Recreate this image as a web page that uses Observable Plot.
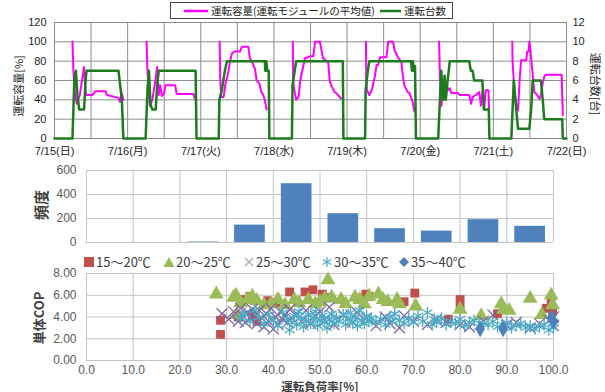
<!DOCTYPE html>
<html><head><meta charset="utf-8">
<script src="https://cdn.jsdelivr.net/npm/d3@7"></script>
<script src="https://cdn.jsdelivr.net/npm/@observablehq/plot@0.6"></script>
<style>
body{margin:0;background:#fff;}
#wrap{position:relative;width:605px;height:392px;overflow:hidden;font-family:"Liberation Sans","Noto Sans CJK JP",sans-serif;}
.panel{position:absolute;left:0;}
.lab{position:absolute;white-space:nowrap;font-family:"Noto Sans CJK JP",sans-serif;transform:translate(-50%,-50%);}
.leg{position:absolute;white-space:nowrap;font-family:"Noto Sans CJK JP",sans-serif;}
</style></head><body><div id="wrap"></div>
<script>
// ---------- top panel data ----------
const dayLabels = ["7/15(日)","7/16(月)","7/17(火)","7/18(水)","7/19(木)","7/20(金)","7/21(土)","7/22(日)"];
const dayTicks = [0,24,48,72,96,120,144,168];
const capTicks = [0,20,40,60,80,100,120];
// running units [hour since 7/15 0:00, units]
const unitsSeries = [
 [0,0],[5.9,0],[6.5,6],[7,7],[7.5,4.6],[8.1,3],[9.7,3],[10.2,6],[10.5,7],[21,7],[22.1,4],[22.6,0],
 [29.9,0],[30.5,5],[31,7],[31.5,3.5],[32.1,3],[33.2,3],[33.7,5.5],[34.2,7],[46.3,7],[46.6,0],
 [53.9,0],[54.1,4],[54.9,5],[55.4,6],[55.9,7],[56.6,8],[69,8],[69.2,7],[69.5,8],[69.8,7],[70.3,7],[70.5,0],
 [77.9,0],[78.1,5.5],[79.3,8],[94.6,8],[94.8,0],
 [101.9,0],[102.1,5],[102.8,7],[103.3,8],[117,8],[117.3,7],[117.6,8],[117.9,7],[118.3,7.5],[118.6,0],
 [125.9,0],[126.9,7],[127.5,4],[128,6.5],[128.4,4],[129,6],[129.7,8],[136.1,8],[136.6,7],[137.2,7],[137.7,6],[140.4,6],[140.9,3],[142.5,3],[142.7,0],
 [149.9,0],[150.7,6],[151.5,3],[152.1,1],[155.8,1],[156.4,3],[156.9,6],[159.6,6],[160.2,4],[160.7,2],[166.6,2],[166.8,0],[168,0]
];
// running capacity [hour, %] per day
const capDay1 = [[5.9,100],[6.2,70],[6.7,47],[7.3,36],[8.3,45],[9.7,74],[10.2,48],[10.5,45],[12.4,45],[13.5,49],[16.7,49],[17.2,45],[21,42],[21.5,38],[22.1,47],[22.6,40]];
const capDay2 = [[30.2,100],[30.5,70],[30.9,48],[31.3,34],[32.1,40],[33.1,60],[33.7,74],[34.2,45],[34.7,55],[35.2,44],[35.9,46],[36.4,55],[39.6,55],[40.1,46],[45.6,46],[46.1,41]];
const capDay3 = [[54.2,100],[54.4,60],[54.7,43],[55.5,43],[56.1,57],[56.8,65],[57.7,81],[58.2,88],[59,90],[60.9,90],[61.5,95],[63.6,95],[64.1,83],[64.7,80],[65.8,72],[66.3,60],[67.2,57],[67.9,48],[68.5,45],[69,40],[69.6,30]];
const capDay4 = [[78.2,100],[78.3,60],[78.5,53],[79.3,40],[80.1,43],[80.6,59],[81.1,67],[82.2,83],[83.8,85],[84.9,85],[85.5,100],[87.1,100],[88.1,83],[89.8,79],[90.3,60],[90.8,55],[91.9,48],[92.5,47],[93,45],[94.1,41]];
const capDay5 = [[102.2,100],[102.3,60],[102.5,50],[103.3,45],[104.1,50],[104.6,57],[105.1,64],[105.7,76],[106.2,76],[106.8,84],[108.9,84],[109.5,100],[111.1,100],[111.6,91],[112.7,84],[113.8,79],[114.3,65],[114.8,55],[115.9,48],[116.5,47],[117.5,38],[118.1,28]];
const capDay6 = [[126.2,100],[126.5,60],[127,34],[127.5,60],[128.1,50],[128.6,55],[129.1,50],[129.7,52],[130.2,47],[132.4,47],[132.9,45],[136.1,45],[136.7,36],[137.2,43],[138.3,45],[139.4,48],[139.9,34],[140.5,50],[141,31],[141.5,50],[142.4,50],[142.6,28]];
const capDay7 = [[150.2,100],[150.3,80],[150.7,59],[151.3,38],[152.1,29],[152.6,59],[153.1,81],[154.8,81],[155.1,90],[155.6,90],[155.8,100],[156.2,90],[156.6,76],[157.1,60],[157.4,48],[158.4,45],[159.1,41],[159.6,45],[160.2,57],[160.7,64],[161.2,66],[166.4,66],[166.8,24]];

// ---------- histogram data ----------
const loadBinStart = [0,10,20,30,40,50,60,70,80,90];
const frequency = [0,0,4,145,490,240,115,95,190,135];
const freqTicks = [0,200,400,600];

// ---------- scatter data [load %, COP] ----------
const seriesNames = ["15〜20℃","20〜25℃","25〜30℃","30〜35℃","35〜40℃"];
const cop15_20 = [[28.7,3.7],[28.7,2.4],[32.5,4.0],[34,5.6],[35,5.9],[35.5,4.2],[36.5,3.6],[38.8,5.5],[40.5,5.3],[43.5,6.3],[46.8,6.3],[48.5,6.5],[50.5,6.1],[52,5.8],[59.8,6.1],[60.5,5.9],[68,5.4],[70.3,6.2],[77.5,3.8],[80,5.6],[80,4.8],[88,4.3],[98.5,4.8],[99.5,5.6],[99.8,4.5]];
const cop20_25 = [[27.8,6.1],[31.5,5.8],[32,6.0],[32.2,4.2],[33,5.3],[34.5,5.6],[35.5,5.9],[36.5,5.5],[38,5.1],[39.5,5.2],[41,5.6],[42.5,5.1],[44.5,5.6],[45.5,5.3],[47.5,5.6],[49,5.2],[50,5.4],[51,5.7],[51.7,7.4],[52.5,5.8],[54.5,5.6],[55.5,5.2],[57.5,5.8],[58.5,5.6],[59.5,5.2],[60.5,5.9],[62.5,6.1],[63.5,5.6],[64.5,5.4],[66.5,5.6],[67,5.2],[70.5,5.0],[80,4.7],[84.5,4.1],[88.8,5.2],[89.3,4.7],[90.5,4.6],[95,5.7],[97.5,4.2],[99.5,6.0],[99.8,5.1]];
const cop25_30 = [[29,4.3],[30.5,3.8],[31.5,4.5],[32.5,3.6],[33,4.8],[33.5,4.1],[34,3.5],[34.5,4.4],[35,3.9],[35.5,4.7],[36,4.2],[36.5,3.4],[37,4.6],[37.5,3.9],[38,3.1],[38.5,4.3],[39,3.6],[39.5,4.8],[40,2.9],[40.5,4.0],[41,3.3],[41.5,4.5],[42,3.8],[42.5,4.2],[43,3.5],[43.5,4.7],[44,3.9],[45,4.3],[46,3.6],[47,4.6],[48,3.4],[49,4.1],[50,4.5],[51,3.7],[52,4.9],[53,3.3],[55,4.2],[57,3.5],[58,4.4],[60,3.9],[62,3.2],[64,4.0],[65,3.4],[67,3.0],[68,4.1],[70,3.6],[73,3.3],[75,3.8],[77,3.5],[80,3.3],[82,3.1],[85,3.6],[87,4.2],[90,3.2],[92,3.5],[95,3.0],[97,3.4],[99,3.7],[100,3.2],[100,4.0]];
const cop30_35 = [[33,3.9],[34,4.3],[35,3.6],[36,4.6],[37,4.0],[38,3.4],[39,4.2],[40,3.7],[41,3.2],[42,4.4],[43,3.8],[43.5,2.8],[44,3.5],[44.5,4.1],[45,3.3],[45.5,4.5],[46,3.9],[46.5,3.1],[47,3.6],[47.5,4.2],[48,3.4],[48.5,3.9],[49,4.5],[49.5,3.2],[50,3.7],[50.5,4.1],[51,3.5],[51.5,3.0],[52,3.8],[52.5,4.3],[53,3.4],[53.5,3.9],[54,3.6],[55,4.2],[55.5,3.3],[56,3.8],[56.5,4.4],[57,3.5],[57.5,4.0],[58,3.2],[58.5,4.6],[59,3.7],[59.5,3.4],[60,4.1],[60.5,3.6],[61,3.9],[62,3.5],[63,3.8],[64,3.3],[65,4.0],[65.5,3.6],[66,4.3],[67,3.7],[68,3.4],[69,3.9],[70,3.5],[71,4.1],[72,3.6],[73,4.4],[74,3.3],[74.5,3.8],[75,3.5],[76,3.9],[77,3.3],[78,3.6],[79,3.4],[80,3.8],[81,3.2],[82,3.5],[83,3.7],[84,3.1],[85,3.4],[86,3.3],[87,3.6],[88,3.1],[89,3.3],[90,3.5],[91,3.0],[92,3.2],[93,3.4],[94,3.0],[95,3.2],[96,2.9],[97,3.1],[98,3.3],[99,2.8],[100,3.0],[100,3.5]];
const cop35_40 = [[84.3,2.9],[89.2,2.9],[100,3.6],[99.6,3.9]];
const loadTicks = [0,10,20,30,40,50,60,70,80,90,100];
const copTicks = [0,2,4,6,8];

// ---------- build ----------
const wrap = document.getElementById("wrap");
const FONT = "'Liberation Sans','Noto Sans CJK JP',sans-serif";
function place(el, top){ el.classList.add("panel"); el.style.top = top+"px"; wrap.appendChild(el); }

const capRows = [capDay1,capDay2,capDay3,capDay4,capDay5,capDay6,capDay7].flatMap((arr,i)=>arr.map(([h,v])=>({h,v,day:i})));

const topChart = Plot.plot({
  width:605, height:160, marginLeft:54, marginRight:39, marginTop:22, marginBottom:22,
  x:{domain:[0,168], axis:null}, y:{domain:[0,120], axis:null},
  style:{background:"transparent", fontFamily:FONT, fontSize:"11px", color:"#222", overflow:"visible"},
  marks:[
    Plot.ruleY(capTicks,{stroke:"#8c8c8c"}),
    Plot.ruleX(d3.range(0,169,12),{stroke:"#8c8c8c"}),
    Plot.axisX({ticks:dayTicks, tickFormat:d=>dayLabels[d/24], tickSize:0, tickPadding:9, label:null, fontSize:11}),
    Plot.axisY({anchor:"left", ticks:capTicks, tickSize:0, tickPadding:8, label:null, fontSize:11}),
    Plot.axisY({anchor:"right", ticks:capTicks, tickFormat:d=>d/10, tickSize:0, tickPadding:6, label:null, fontSize:11}),
    Plot.line(capRows,{x:"h", y:"v", z:"day", stroke:"#ff00ff", strokeWidth:2}),
    Plot.line(unitsSeries,{x:d=>d[0], y:d=>d[1]*10, stroke:"#1d7a1d", strokeWidth:2.5})
  ]
});
place(topChart, 0);

const binRows = loadBinStart.map((lo,i)=>({lo, hi:lo+10, n:frequency[i]}));
const hist = Plot.plot({
  width:605, height:95, marginLeft:86, marginRight:52, marginTop:10, marginBottom:13,
  x:{domain:[0,100], axis:null}, y:{domain:[0,600], axis:null},
  style:{background:"transparent", fontFamily:FONT, fontSize:"12px", color:"#595959", overflow:"visible"},
  marks:[
    Plot.ruleY(freqTicks,{stroke:"#c4c4c4"}),
    Plot.ruleX(loadTicks,{stroke:"#c4c4c4"}),
    Plot.rectY(binRows,{x1:"lo", x2:"hi", y:"n", fill:"#4f81bd", insetLeft:8, insetRight:8}),
    Plot.axisY({ticks:freqTicks, tickSize:0, tickPadding:10, label:null, fontSize:12})
  ]
});
place(hist, 160);

const sc = Plot.plot({
  width:605, height:137, marginLeft:86, marginRight:52, marginTop:18, marginBottom:32,
  x:{domain:[0,100], axis:null}, y:{domain:[0,8], axis:null},
  style:{background:"transparent", fontFamily:FONT, fontSize:"12px", color:"#595959", overflow:"visible"},
  marks:[
    Plot.ruleY(copTicks,{stroke:"#c4c4c4"}),
    Plot.ruleX(loadTicks,{stroke:"#c4c4c4"}),
    Plot.axisX({ticks:loadTicks, tickFormat:d=>d.toFixed(1), tickSize:0, tickPadding:5, label:null, fontSize:12}),
    Plot.axisY({ticks:copTicks, tickFormat:d=>d.toFixed(2), tickSize:0, tickPadding:10, label:null, fontSize:12}),
    Plot.dot(cop15_20,{x:d=>d[0], y:d=>d[1], symbol:"square", fill:"#c0504d", r:5}),
    Plot.dot(cop20_25,{x:d=>d[0], y:d=>d[1], symbol:"triangle", fill:"#9bbb59", r:5.5}),
    Plot.dot(cop25_30,{x:d=>d[0], y:d=>d[1], symbol:"times", stroke:"#8064a2", r:5, strokeWidth:1.3}),
    Plot.dot(cop30_35,{x:d=>d[0], y:d=>d[1], symbol:"asterisk", stroke:"#4bacc6", r:5.5, strokeWidth:1.3}),
    Plot.dot(cop35_40,{x:d=>d[0], y:d=>d[1], symbol:"diamond", fill:"#4f81bd", r:5})
  ]
});
place(sc, 255);

// ---------- text labels ----------
function lab(text, x, y, css){ const d=document.createElement("div"); d.className="lab"; d.textContent=text; d.style.left=x+"px"; d.style.top=y+"px"; Object.assign(d.style, css||{}); wrap.appendChild(d); return d; }
lab("運転容量[%]", 18, 86, {fontSize:"11px", color:"#222", transform:"translate(-50%,-50%) rotate(-90deg)"});
lab("運転台数[台]", 596, 84, {fontSize:"11px", color:"#222", transform:"translate(-50%,-50%) rotate(90deg)"});
lab("頻度", 40, 205, {fontSize:"15px", fontWeight:"bold", color:"#404040", transform:"translate(-50%,-50%) rotate(-90deg)"});
lab("単体COP", 38, 318, {fontSize:"13px", fontWeight:"bold", color:"#404040", transform:"translate(-50%,-50%) rotate(-90deg)"});
lab("運転負荷率[%]", 320, 385.5, {fontSize:"11.5px", fontWeight:"bold", color:"#404040", lineHeight:"13px"});

// top legend
const tl = document.createElement("div");
tl.className="leg";
Object.assign(tl.style,{left:"170px", top:"2px", width:"281px", height:"15px", border:"1px solid #444", background:"#fff", fontSize:"10.5px", color:"#222", lineHeight:"15px"});
tl.innerHTML = '<svg width="281" height="15" style="position:absolute;left:0;top:0"><line x1="13" x2="37" y1="8" y2="8" stroke="#ff00ff" stroke-width="2.5"/><line x1="209" x2="230" y1="8" y2="8" stroke="#1d7a1d" stroke-width="2.5"/></svg>'
 + '<span style="position:absolute;left:40px;top:0">運転容量(運転モジュールの平均値)</span><span style="position:absolute;left:233px;top:0">運転台数</span>';
wrap.appendChild(tl);

// scatter legend
const symSvg = [
 '<rect x="1" y="1" width="10" height="10" fill="#c0504d"/>',
 '<path d="M6 1 L11.5 11 L0.5 11 Z" fill="#9bbb59"/>',
 '<path d="M2 2 L10 10 M10 2 L2 10" stroke="#a6a6a6" stroke-width="1.2"/>',
 '<path d="M6 1 V11 M1.7 3.5 L10.3 8.5 M10.3 3.5 L1.7 8.5" stroke="#4bacc6" stroke-width="1.2"/>',
 '<path d="M6 1 L11 6 L6 11 L1 6 Z" fill="#4f81bd"/>'
];
const legX = [83, 163, 243, 321, 398];
seriesNames.forEach((name,i)=>{
  const d=document.createElement("div"); d.className="leg";
  Object.assign(d.style,{left:legX[i]+"px", top:"254px", fontSize:"13px", color:"#404040", lineHeight:"16px", background:"#fff", paddingRight:"3px"});
  d.innerHTML = '<svg width="12" height="12" style="vertical-align:-1px;margin-right:1px">'+symSvg[i]+'</svg>'+name;
  wrap.appendChild(d);
});
</script>
</body></html>
